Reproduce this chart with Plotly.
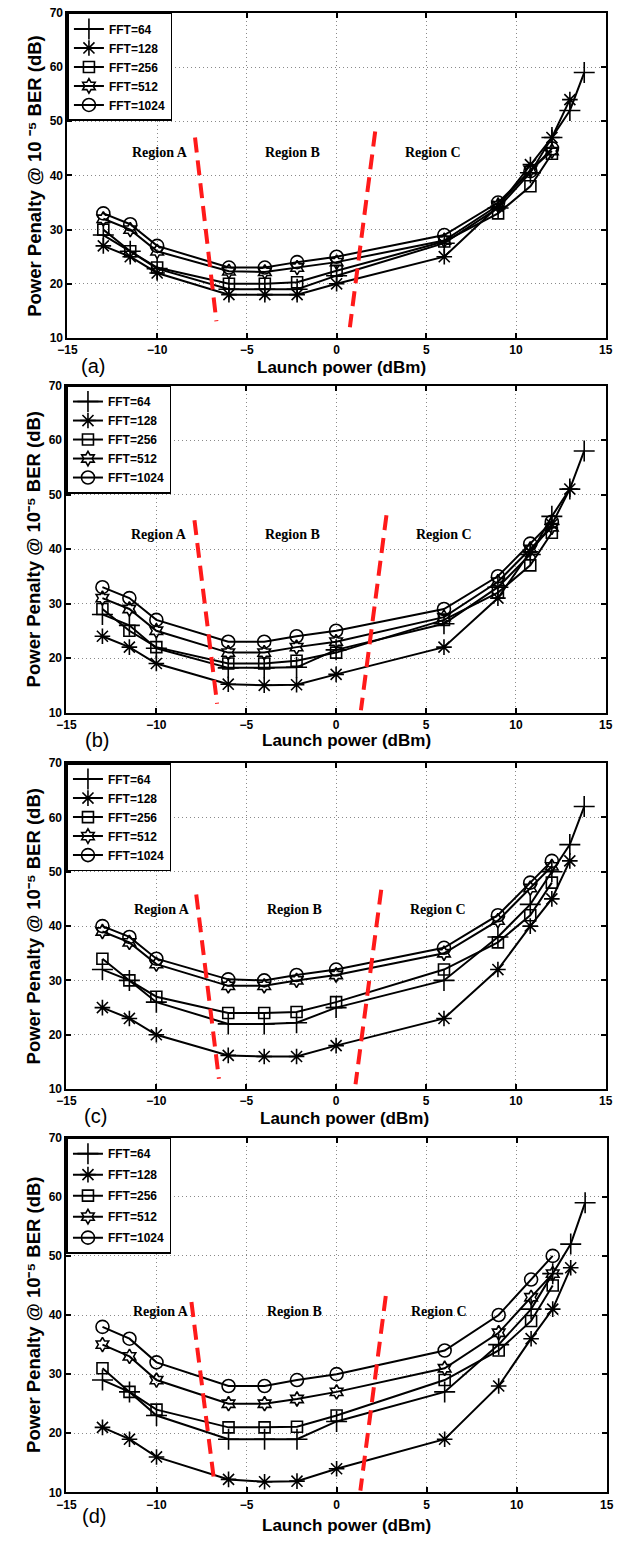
import plotly.graph_objects as go

# ---------------- data ----------------
launch_power = [-13, -11.5, -10, -6, -4, -2.2, 0, 6, 9, 10.8, 12, 13, 13.8]
series_names = ["FFT=64", "FFT=128", "FFT=256", "FFT=512", "FFT=1024"]
panel_tags = ["(a)", "(b)", "(c)", "(d)"]
region_names = ["Region A", "Region B", "Region C"]

# panel (a)
a_fft64 = [29, 26, 22.8, 19, 19, 19, 21.5, 27.5, 34, 40.5, 47, 52, 59]
a_fft128 = [27, 25, 22, 18, 18, 18, 20, 25, 34.3, 42, 47, 54]
a_fft256 = [30, 26, 23, 20, 20, 20.3, 22.4, 27.8, 33, 38, 44]
a_fft512 = [32, 30, 26, 22.3, 22.2, 23, 24, 28, 34.5, 41, 44.5]
a_fft1024 = [33, 31, 27, 23, 23, 24, 25, 29, 35, 40.8, 45]

# panel (b)
b_fft64 = [28, 26, 21.8, 18.2, 18.2, 18.3, 21.5, 26.3, 33, 39, 46, 51, 58]
b_fft128 = [24, 22, 19, 15.2, 15, 15.1, 17, 22, 31, 39.5, 44.5, 51]
b_fft256 = [29, 25, 22, 19, 19, 19.5, 21, 27, 32, 37, 43]
b_fft512 = [31, 29, 25, 21, 21, 22, 23, 27.5, 34, 40, 44]
b_fft1024 = [33, 31, 27, 23, 23, 24, 25, 29, 35, 41, 45]

# panel (c)
c_fft64 = [32, 30, 26, 22, 22, 22.2, 25, 30, 38, 44, 50, 55, 62]
c_fft128 = [25, 23, 20, 16.2, 16, 16, 18, 23, 32, 40, 45, 52]
c_fft256 = [34, 30, 27, 24, 24, 24.2, 26, 32, 37, 42, 48]
c_fft512 = [39, 37, 33, 29, 29, 30, 31, 35, 41, 47, 51]
c_fft1024 = [40, 38, 34, 30.2, 30, 31, 32, 36, 42, 48, 52]

# panel (d)
d_fft64 = [29, 27, 23, 19, 19, 19, 22, 27, 35, 41, 47, 52, 59]
d_fft128 = [21, 19, 16, 12.2, 11.8, 11.9, 14, 19, 28, 36, 41, 48]
d_fft256 = [31, 27, 24, 21, 21, 21.1, 23, 29, 34, 39, 45]
d_fft512 = [35, 33, 29, 25, 25, 25.8, 27, 31, 37, 43, 47]
d_fft1024 = [38, 36, 32, 28, 28, 29, 30, 34, 40, 46, 50]

panel_series = [
    [a_fft64, a_fft128, a_fft256, a_fft512, a_fft1024],
    [b_fft64, b_fft128, b_fft256, b_fft512, b_fft1024],
    [c_fft64, c_fft128, c_fft256, c_fft512, c_fft1024],
    [d_fft64, d_fft128, d_fft256, d_fft512, d_fft1024],
]

# red dashed region boundaries per panel: (x_top, x_bottom), (y_top, y_bottom)
boundary1_x = [[-7.89, -6.70], [-7.88, -6.62], [-7.78, -6.52], [-8.06, -6.78]]
boundary1_y = [[47.0, 13.1], [45.3, 11.6], [45.8, 11.9], [42.2, 11.4]]
boundary2_x = [[2.15, 0.74], [2.80, 1.38], [2.51, 1.08], [2.73, 1.32]]
boundary2_y = [[48.1, 12.0], [46.2, 10.4], [46.7, 10.9], [43.2, 10.3]]

# region label positions (data coords)
region_x = [[-9.85, -2.47, 5.37], [-9.83, -2.42, 6.0], [-9.71, -2.33, 5.66], [-9.74, -2.33, 5.66]]
region_y = [44.2, 42.6, 43.0, 40.6]

y_titles = [
    "Power Penalty @ 10 \u207b\u2075 BER (dB)",
    "Power Penalty @ 10\u207b\u2075 BER (dB)",
    "Power Penalty @ 10\u207b\u2075 BER (dB)",
    "Power Penalty @ 10\u207b\u2075 BER (dB)",
]
x_title = "Launch power (dBm)"

x_ticks = [-15, -10, -5, 0, 5, 10, 15]
y_ticks = [10, 20, 30, 40, 50, 60, 70]

# ---------------- layout geometry (pixels) ----------------
W, H = 641, 1543
panel_px = [  # x0, x1, ytop, ybottom
    (59, 612, 6, 334),
    (58, 612, 382, 712),
    (58, 612, 763, 1092),
    (58, 613, 1141, 1499),
]
tag_px = [(85, 362), (89, 740), (88, 1119), (86, 1523)]
xtitle_py = [364, 740, 1122, 1532]
xtitle_px = [341, 346, 344, 346]
ytitle_px = [25, 24, 24, 23.5]

symbols = ["cross-thin", "asterisk", "square-open", "hexagram-open", "circle-open"]
msizes = [15, 13, 11, 11, 13]

FONT = "Liberation Sans, Arial, sans-serif"
SERIF = "Liberation Serif, Times New Roman, serif"

def px_x(p):
    return p / W

def px_y(p):
    return 1 - p / H

fig = go.Figure()
annotations = []

for i in range(4):
    ax = "" if i == 0 else str(i + 1)
    xref = "x" + ax
    yref = "y" + ax
    leg = "legend" if i == 0 else "legend" + str(i + 1)
    for k, vals in enumerate(panel_series[i]):
        fig.add_trace(go.Scatter(
            x=launch_power[:len(vals)], y=vals,
            mode="lines+markers",
            name=series_names[k],
            xaxis=xref, yaxis=yref,
            legend=leg,
            legendgroup=f"p{i}s{k}",
            line=dict(color="black", width=2),
            marker=dict(symbol=symbols[k], size=msizes[k], color="black",
                        line=dict(color="black", width=1.6)),
        ))
    for bx, by in ((boundary1_x[i], boundary1_y[i]), (boundary2_x[i], boundary2_y[i])):
        fig.add_trace(go.Scatter(
            x=bx, y=by, mode="lines", showlegend=False,
            xaxis=xref, yaxis=yref,
            line=dict(color="#ff1a1a", width=4, dash="15px,8px"),
            hoverinfo="skip",
        ))
    x0, x1, yt, yb = panel_px[i]
    axis_common = dict(
        showline=True, linecolor="black", linewidth=2, mirror="ticks",
        ticks="inside", ticklen=5, tickwidth=1.5, tickcolor="black",
        showgrid=True, gridcolor="#8a8a8a", gridwidth=1, griddash="1px,3px",
        zeroline=False,
        tickfont=dict(family=FONT, size=12, color="black", weight="bold"),
    )
    fig.update_layout(**{
        "xaxis" + ax: dict(domain=[px_x(x0), px_x(x1)], range=[-15, 15],
                           tickvals=x_ticks, anchor=yref, **axis_common),
        "yaxis" + ax: dict(domain=[px_y(yb), px_y(yt)], range=[10, 70],
                           tickvals=y_ticks, anchor=xref, **axis_common),
        leg: dict(x=px_x(x0), y=px_y(yt), xanchor="left", yanchor="top",
                  bgcolor="white", bordercolor="black", borderwidth=1.5,
                  font=dict(family=FONT, size=12, color="black", weight="bold"),
                  tracegroupgap=(2 if i == 3 else 0),
                  itemclick=False, itemdoubleclick=False),
    })
    # region labels
    for r in range(3):
        annotations.append(dict(
            x=region_x[i][r], y=region_y[i], xref=xref, yref=yref,
            text=region_names[r], showarrow=False,
            font=dict(family=SERIF, size=14, color="black", weight="bold"),
        ))
    # axis titles
    annotations.append(dict(
        x=px_x(xtitle_px[i]), y=px_y(xtitle_py[i]), xref="paper", yref="paper",
        text=x_title, showarrow=False, xanchor="center", yanchor="middle",
        font=dict(family=FONT, size=17, color="black", weight="bold"),
    ))
    annotations.append(dict(
        x=px_x(ytitle_px[i]), y=px_y((yt + yb) / 2), xref="paper", yref="paper",
        text=y_titles[i], showarrow=False, textangle=-90,
        xanchor="center", yanchor="middle",
        font=dict(family=FONT, size=18.5, color="black", weight="bold"),
    ))
    annotations.append(dict(
        x=px_x(tag_px[i][0]), y=px_y(tag_px[i][1]), xref="paper", yref="paper",
        text=panel_tags[i], showarrow=False, xanchor="center", yanchor="middle",
        font=dict(family=FONT, size=20, color="black"),
    ))

fig.update_layout(
    width=W, height=H,
    margin=dict(l=0, r=0, t=0, b=0),
    paper_bgcolor="white", plot_bgcolor="white",
    annotations=annotations,
    showlegend=True,
)

fig.write_html(
    "out.html",
    config={"displayModeBar": False},
    post_script="document.body.style.margin='0';document.body.style.overflow='hidden';",
)
